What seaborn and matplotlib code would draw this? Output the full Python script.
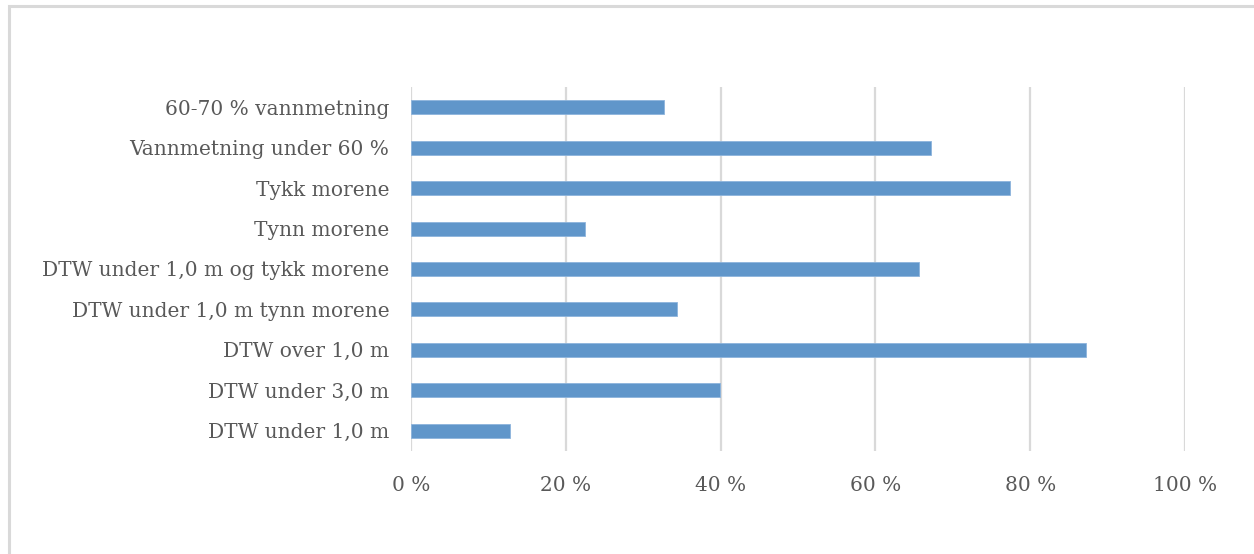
import matplotlib
matplotlib.use("Agg")
import matplotlib.pyplot as plt
import matplotlib.patches as mpatches
from matplotlib.ticker import FuncFormatter
import seaborn as sns
import pandas as pd

categories = [
    "60-70 % vannmetning",
    "Vannmetning under 60 %",
    "Tykk morene",
    "Tynn morene",
    "DTW under 1,0 m og tykk morene",
    "DTW under 1,0 m tynn morene",
    "DTW over 1,0 m",
    "DTW under 3,0 m",
    "DTW under 1,0 m",
]
shares = [32.7, 67.2, 77.4, 22.5, 65.6, 34.4, 87.2, 39.9, 12.8]
x_ticks = [0, 20, 40, 60, 80, 100]

df = pd.DataFrame({"kategori": categories, "andel": shares})

sns.set_theme(style="white")
plt.rcParams["font.family"] = ["DejaVu Serif"]

text_color = "#595959"
grid_color = "#D9D9D9"
bar_color = "#6096CA"

fig = plt.figure(figsize=(12.54, 5.54), dpi=100)
ax = fig.add_axes([411 / 1254, 1 - 451 / 554, 774 / 1254, 364 / 554])

sns.barplot(data=df, x="andel", y="kategori", orient="h", color=bar_color,
            width=0.345, edgecolor="#8DB4DC", linewidth=0.6, saturation=1,
            ax=ax, zorder=3)

ax.set_xlim(0, 100)
ax.set_ylim(len(categories) - 0.5, -0.5)
ax.set_xticks(x_ticks)
ax.xaxis.set_major_formatter(FuncFormatter(lambda v, p: f"{v:.0f} %"))
ax.grid(axis="x", color=grid_color, linewidth=1.6, zorder=0)
ax.grid(axis="y", visible=False)
for s in ax.spines.values():
    s.set_visible(False)
ax.tick_params(axis="both", length=0, labelsize=14.5, colors=text_color)
ax.tick_params(axis="x", pad=18)
ax.tick_params(axis="y", pad=15.5)
ax.set_xlabel("")
ax.set_ylabel("")

# light frame around the chart area
fig.patches.append(mpatches.Rectangle((9 / 1254, -0.1), 1.2, 1 - 6 / 554 + 0.1,
                                      transform=fig.transFigure, fill=False,
                                      edgecolor=grid_color, linewidth=2.2))

fig.savefig("out.png", dpi=100)
